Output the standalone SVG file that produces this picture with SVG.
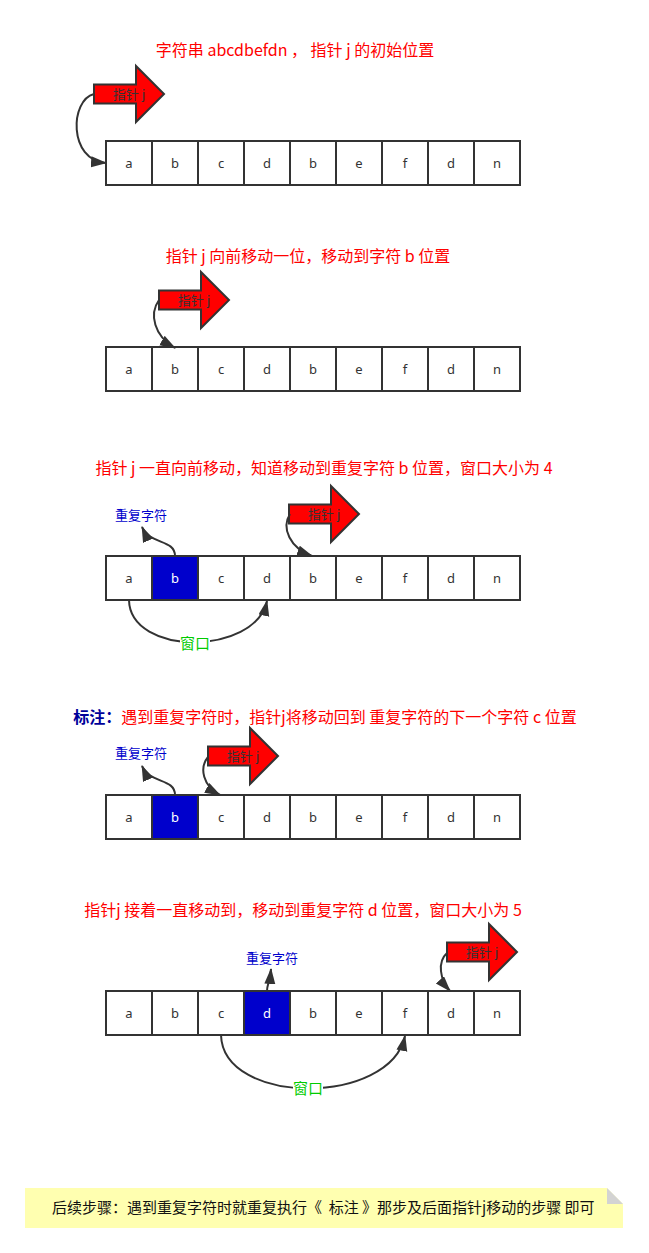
<svg xmlns="http://www.w3.org/2000/svg" width="649" height="1253" viewBox="0 0 649 1253">
<style>
.title{font-family:"Noto Sans CJK SC","Noto Sans",sans-serif;font-size:16px;fill:#ff0000;text-anchor:middle}
.cell{fill:#ffffff;stroke:#333333;stroke-width:2}
.cellb{fill:#0000cc;stroke:#333333;stroke-width:2}
.ct{font-family:"Noto Sans","Noto Sans CJK SC",sans-serif;font-size:13px;fill:#333333;text-anchor:middle}
.ctw{font-family:"Noto Sans","Noto Sans CJK SC",sans-serif;font-size:13px;fill:#ffffff;text-anchor:middle}
.ptr{fill:#ff0000;stroke:#333333;stroke-width:2;stroke-linejoin:miter}
.pt{font-family:"Noto Sans CJK SC","Noto Sans",sans-serif;font-size:13px;fill:#333333;text-anchor:middle}
.rep{font-family:"Noto Sans CJK SC","Noto Sans",sans-serif;font-size:13px;fill:#0000cc;text-anchor:middle}
.win{font-family:"Noto Sans CJK SC","Noto Sans",sans-serif;font-size:15px;fill:#00cc00;text-anchor:middle}
.conn{fill:none;stroke:#333333;stroke-width:2;marker-end:url(#ah)}
.note{font-family:"Noto Sans CJK SC","Noto Sans",sans-serif;font-size:15px;fill:#111111}
</style>
<defs>
<marker id="ah" markerWidth="17" markerHeight="12" refX="15" refY="5.5" orient="auto" markerUnits="userSpaceOnUse">
<path d="M0,0 L16,5.5 L0,11 z" fill="#333333"/>
</marker>
<path id="ptrshape" d="M0,-9.5 L42,-9.5 L42,-28 L70,0 L42,28 L42,9.5 L0,9.5 z"/>
<g id="rowcells">
<rect class="cell" x="106" y="0" width="46" height="44"/>
<rect class="cell" x="152" y="0" width="46" height="44"/>
<rect class="cell" x="198" y="0" width="46" height="44"/>
<rect class="cell" x="244" y="0" width="46" height="44"/>
<rect class="cell" x="290" y="0" width="46" height="44"/>
<rect class="cell" x="336" y="0" width="46" height="44"/>
<rect class="cell" x="382" y="0" width="46" height="44"/>
<rect class="cell" x="428" y="0" width="46" height="44"/>
<rect class="cell" x="474" y="0" width="46" height="44"/>
</g>
</defs>

<rect x="0" y="0" width="649" height="1253" fill="#ffffff"/>

<!-- Titles -->
<g id="title1"><text class="title" x="295" y="56">字符串 abcdbefdn ， 指针 j 的初始位置</text></g>
<g id="title2"><text class="title" x="308" y="262">指针 j 向前移动一位，移动到字符 b 位置</text></g>
<g id="title3"><text class="title" x="324" y="474">指针 j 一直向前移动，知道移动到重复字符 b 位置，窗口大小为 4</text></g>
<g id="title4"><text class="title" x="325" y="723"><tspan fill="#000099" font-weight="bold">标注：</tspan>遇到重复字符时，指针j将移动回到 重复字符的下一个字符 c 位置</text></g>
<g id="title5"><text class="title" x="303" y="916">指针j 接着一直移动到，移动到重复字符 d 位置，窗口大小为 5</text></g>

<!-- Row 1 -->
<g id="row1" transform="translate(0,141)">
<use href="#rowcells"/>
<text class="ct" x="129" y="27">a</text><text class="ct" x="175" y="27">b</text><text class="ct" x="221" y="27">c</text><text class="ct" x="267" y="27">d</text><text class="ct" x="313" y="27">b</text><text class="ct" x="359" y="27">e</text><text class="ct" x="405" y="27">f</text><text class="ct" x="451" y="27">d</text><text class="ct" x="497" y="27">n</text>
</g>

<!-- Row 2 -->
<g id="row2" transform="translate(0,347)">
<use href="#rowcells"/>
<text class="ct" x="129" y="27">a</text><text class="ct" x="175" y="27">b</text><text class="ct" x="221" y="27">c</text><text class="ct" x="267" y="27">d</text><text class="ct" x="313" y="27">b</text><text class="ct" x="359" y="27">e</text><text class="ct" x="405" y="27">f</text><text class="ct" x="451" y="27">d</text><text class="ct" x="497" y="27">n</text>
</g>

<!-- Row 3 -->
<g id="row3" transform="translate(0,556)">
<use href="#rowcells"/>
<rect class="cellb" x="152" y="0" width="46" height="44"/>
<text class="ct" x="129" y="27">a</text><text class="ctw" x="175" y="27">b</text><text class="ct" x="221" y="27">c</text><text class="ct" x="267" y="27">d</text><text class="ct" x="313" y="27">b</text><text class="ct" x="359" y="27">e</text><text class="ct" x="405" y="27">f</text><text class="ct" x="451" y="27">d</text><text class="ct" x="497" y="27">n</text>
</g>

<!-- Row 4 -->
<g id="row4" transform="translate(0,795)">
<use href="#rowcells"/>
<rect class="cellb" x="152" y="0" width="46" height="44"/>
<text class="ct" x="129" y="27">a</text><text class="ctw" x="175" y="27">b</text><text class="ct" x="221" y="27">c</text><text class="ct" x="267" y="27">d</text><text class="ct" x="313" y="27">b</text><text class="ct" x="359" y="27">e</text><text class="ct" x="405" y="27">f</text><text class="ct" x="451" y="27">d</text><text class="ct" x="497" y="27">n</text>
</g>

<!-- Row 5 -->
<g id="row5" transform="translate(0,991)">
<use href="#rowcells"/>
<rect class="cellb" x="244" y="0" width="46" height="44"/>
<text class="ct" x="129" y="27">a</text><text class="ct" x="175" y="27">b</text><text class="ct" x="221" y="27">c</text><text class="ctw" x="267" y="27">d</text><text class="ct" x="313" y="27">b</text><text class="ct" x="359" y="27">e</text><text class="ct" x="405" y="27">f</text><text class="ct" x="451" y="27">d</text><text class="ct" x="497" y="27">n</text>
</g>

<!-- Pointers -->
<g id="pointer1"><use href="#ptrshape" class="ptr" transform="translate(94,94)"/><text class="pt" x="129" y="99">指针 j</text></g>
<g id="pointer2"><use href="#ptrshape" class="ptr" transform="translate(159,300)"/><text class="pt" x="194" y="305">指针 j</text></g>
<g id="pointer3"><use href="#ptrshape" class="ptr" transform="translate(289,514)"/><text class="pt" x="324" y="519">指针 j</text></g>
<g id="pointer4"><use href="#ptrshape" class="ptr" transform="translate(208,756)"/><text class="pt" x="243" y="761">指针 j</text></g>
<g id="pointer5"><use href="#ptrshape" class="ptr" transform="translate(447,952)"/><text class="pt" x="482" y="957">指针 j</text></g>

<!-- Labels -->
<g id="rep3"><text class="rep" x="141" y="520">重复字符</text></g>
<g id="rep4"><text class="rep" x="141" y="758">重复字符</text></g>
<g id="rep5"><text class="rep" x="272" y="963">重复字符</text></g>

<!-- Connectors -->
<g id="connectors">
<path class="conn" d="M94,94 C70,100 68,160 106,163"/>
<path class="conn" d="M159,300 C149,314 154,336 175,348"/>
<path class="conn" d="M175,556 C175,539 150,545 142,527"/>
<path class="conn" d="M290,514 C281,528 290,548 312,556"/>
<path class="conn" d="M129,600 C130,656 255,656 267,601"/>
<path class="conn" d="M175,795 C175,778 150,784 142,766"/>
<path class="conn" d="M208,757 C199,768 203,786 220,795"/>
<path class="conn" d="M267,991 C267,984 270,982 271,969"/>
<path class="conn" d="M447,953 C437,962 440,980 450,991"/>
<path class="conn" d="M221,1035 C223,1106 390,1106 405,1036"/>
</g>

<!-- Window labels -->
<g id="win3"><rect x="180" y="636" width="30" height="16" fill="#ffffff"/><text class="win" x="195" y="649">窗口</text></g>
<g id="win5"><rect x="293" y="1081" width="30" height="16" fill="#ffffff"/><text class="win" x="308" y="1094">窗口</text></g>

<!-- Note -->
<g id="note">
<path d="M25,1188 L607,1188 L623,1204 L623,1228 L25,1228 z" fill="#ffffb0"/>
<path d="M607,1188 L607,1204 L623,1204 z" fill="#d3d3d3"/>
<text class="note" x="52" y="1213" xml:space="preserve">后续步骤：遇到重复字符时就重复执行《  标注 》那步及后面指针j移动的步骤 即可</text>
</g>
</svg>
